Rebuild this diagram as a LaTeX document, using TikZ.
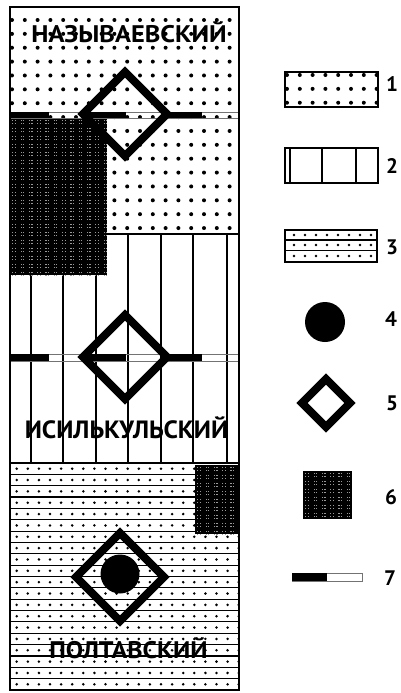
\documentclass[tikz,border=0pt]{standalone}
\usepackage{fontspec}
\setmainfont{PT Sans}
\begin{document}
\begin{tikzpicture}[x=1pt,y=-1pt]
\useasboundingbox (0,0) rectangle (400,693);
\tikzset{
 thinline/.style={line width=1.15pt, draw=black},
 border/.style={line width=1.3pt, draw=black},
 diam/.style={line width=7.8pt, line join=miter, miter limit=10},
 lbl/.style={font=\fontsize{21}{21}\selectfont\bfseries, anchor=base west, inner sep=0pt},
 dname/.style={font=\fontsize{24}{24}\selectfont\bfseries, anchor=base, inner sep=0pt},
 bar/.style={line width=0.6pt, draw=black!55},
}
\newcommand\darkpat[4]{%
  \fill[black] (#1,#2) rectangle (#3,#4);
  \begin{scope}
    \clip (#1,#2) rectangle (#3,#4);
    \foreach \i in {0,...,14}{
      \foreach \j in {0,...,20}{
        \foreach \a/\b in {0/0,2.5/0,0/2.5,2.5/2.5}{
          \fill[black!40] ({#1+2.2+8.3*\i+\a},{#2+2.2+8*\j+\b}) rectangle ++(1.2,1.2);
        }
      }
    }
  \end{scope}}
\newcommand\dotgrid[6]{% x1 y1 x2 y2 x0 y0
  \begin{scope}
    \clip (#1,#2) rectangle (#3,#4);
    \foreach \i in {0,...,19}{
      \foreach \j in {0,...,17}{
        \fill ({#5+12.8*\i},{#6+13.87*\j}) circle (2pt);
      }
    }
  \end{scope}}
\newcommand\stripes[5]{% x1 y1 x2 y2 nstripes
  \begin{scope}
    \clip (#1,#2) rectangle (#3,#4);
    \pgfmathsetmacro\sh{(#4-#2)/#5}
    \foreach \k in {1,...,#5}{
      \draw[thinline] (#1,{#2+\k*\sh}) -- (#3,{#2+\k*\sh});
      \foreach \i in {0,...,21}{
        \fill ({#1+6.7+11.1*\i},{#2+(\k-0.5)*\sh}) circle (1.4pt);
      }
    }
  \end{scope}}

% ---------- section 1: dots
\dotgrid{10}{7}{239}{234}{12}{20}
% ---------- section 2: vertical lines
\foreach \x in {31,63,96,128,161,193,227}{
  \draw[thinline] (\x,234) -- (\x,463);
}
\draw[thinline] (10,234) -- (239,234);
% ---------- section 3: striped dots
\stripes{10}{463}{239}{690}{20}
\draw[thinline] (10,463) -- (239,463);

% dark boxes
\darkpat{10}{118}{107}{275}
\darkpat{195}{465}{239}{534}

% bars
\draw[bar] (10,112) rectangle (239,118);
\foreach \x in {10,87,163}{ \fill (\x,112) rectangle ++(39,6); }
\draw[bar] (10,354) rectangle (239,361);
\foreach \x in {10,87,163}{ \fill (\x,354) rectangle ++(39,7); }

% diamonds
\draw[diam] (125,72) -- (167,114) -- (125,156) -- (83,114) -- cycle;
\draw[diam] (125,315) -- (167,357) -- (125,399) -- (83,357) -- cycle;
\draw[diam] (120,533) -- (164,577) -- (120,621) -- (76,577) -- cycle;
\fill (120,574) circle (19.5pt);

% outer border
\draw[border] (10,7) rectangle (239,690);

% names
\node[dname] (naz) at (129,42.5) {\scalebox{1.1}[1]{НАЗЫВАЕВСКИЙ}};
\node[dname, font=\fontsize{25}{25}\selectfont\bfseries] (isil) at (126.5,438) {\scalebox{1.03}[1]{ИСИЛЬКУЛЬСКИЙ}};
\node[dname] (polt) at (128.5,658) {\scalebox{1.08}[1]{ПОЛТАВСКИЙ}};

% ---------- legend
% 1
\dotgrid{285}{72}{378}{107}{287}{75}
\draw[border] (285,72) rectangle (378,107);
\node[lbl] (l1) at (386,92) {1};
% 2
\draw[border] (285,148) rectangle (378,183);
\foreach \x in {290,322,356}{ \draw[thinline] (\x,148) -- (\x,183); }
\node[lbl] (l2) at (386,173) {2};
% 3
\begin{scope}
  \clip (285,230) rectangle (377,262);
  \foreach \k/\yy in {1/235,2/245,3/256}{
    \foreach \i in {0,...,8}{ \fill ({294+11*\i},\yy) circle (1.4pt); }
  }
\end{scope}
\draw[thinline] (285,240) -- (377,240);
\draw[thinline] (285,250.5) -- (377,250.5);
\draw[border] (285,230) rectangle (377,262);
\draw[line width=1.6pt] (285,262) -- (377,262);
\node[lbl] (l3) at (386,254) {3};
% 4
\fill (325,322) circle (20pt);
\node[lbl] (l4) at (385,326) {4};
% 5
\draw[diam] (326,379) -- (350,403) -- (326,427) -- (302,403) -- cycle;
\node[lbl] (l5) at (386,410) {5};
% 6
\darkpat{303}{471}{352}{519}
\node[lbl] (l6) at (385,504) {6};
% 7
\draw[bar] (292,573) rectangle (362,581);
\fill (292,573) rectangle (327,581);
\node[lbl] (l7) at (384,585) {7};
\end{tikzpicture}
\end{document}
